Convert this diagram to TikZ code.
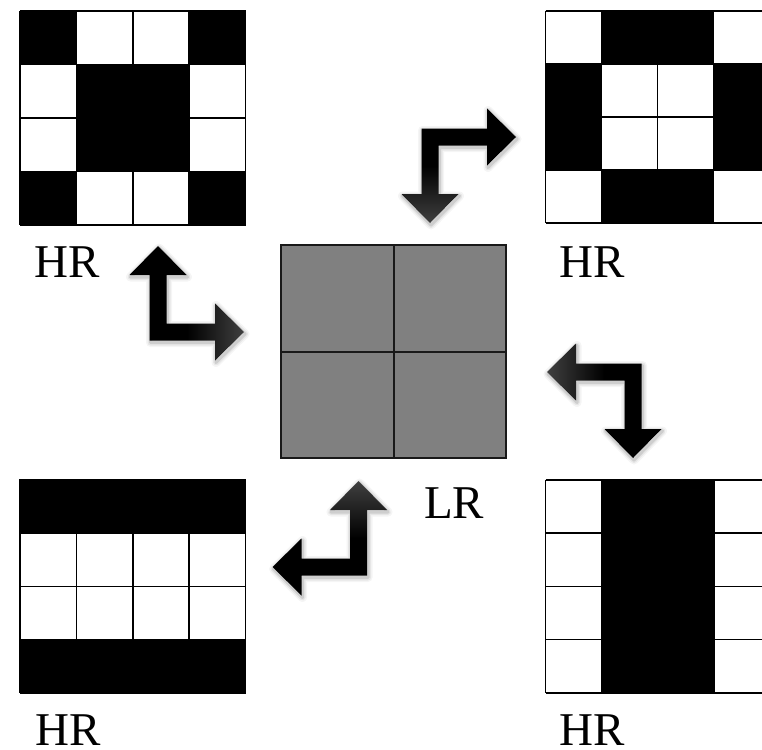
\documentclass[tikz,border=0pt]{standalone}
\usepackage{fontspec}
\setmainfont{Liberation Serif}
\tikzset{
  cellline/.style={draw=black, line width=1.5pt},
  lbl/.style={font=\fontsize{47}{50}\selectfont, inner sep=0pt, anchor=base west, text=black},
  arrowshadow/.style={draw=black, line join=round},
}
% L-shaped double arrow: corner (#1,#2), x-arm sign #3, y-arm sign #4
\newcommand{\Lpath}[4]{%
  ({#1+(#3)*(-8.5)},{#2+(#4)*(-8.5)}) -- ({#1+(#3)*57},{#2+(#4)*(-8.5)}) --
  ({#1+(#3)*57},{#2+(#4)*(-28.5)}) -- ({#1+(#3)*86},{#2}) --
  ({#1+(#3)*57},{#2+(#4)*28.5}) -- ({#1+(#3)*57},{#2+(#4)*8.5}) --
  ({#1+(#3)*8.5},{#2+(#4)*8.5}) -- ({#1+(#3)*8.5},{#2+(#4)*57}) --
  ({#1+(#3)*28.5},{#2+(#4)*57}) -- ({#1},{#2+(#4)*86}) --
  ({#1+(#3)*(-28.5)},{#2+(#4)*57}) -- ({#1+(#3)*(-8.5)},{#2+(#4)*57}) -- cycle}
\newcommand{\Larr}[5]{%
  \begin{scope}[shift={(1,2)}]
    \draw[arrowshadow, line width=9pt, opacity=0.04] \Lpath{#1}{#2}{#3}{#4};
    \draw[arrowshadow, line width=6pt, opacity=0.06] \Lpath{#1}{#2}{#3}{#4};
    \draw[arrowshadow, line width=3pt, opacity=0.10] \Lpath{#1}{#2}{#3}{#4};
  \end{scope}
  \shade[#5] \Lpath{#1}{#2}{#3}{#4};
}
% 4x4 grid: x0, y0, cell w, cell h, black cells
\newcommand{\gridbox}[5]{%
  \fill[white] (#1,#2) rectangle ({#1+4*#3},{#2+4*#4});
  \foreach \c/\r in {#5} {\fill[black] ({#1+\c*#3},{#2+\r*#4}) rectangle ++(#3,#4);}
  \foreach \i in {0,...,4} {
    \draw[cellline] ({#1+\i*#3},#2) -- ({#1+\i*#3},{#2+4*#4});
    \draw[cellline] (#1,{#2+\i*#4}) -- ({#1+4*#3},{#2+\i*#4});
  }
}
\begin{document}
\begin{tikzpicture}[x=1pt, y=-1pt]
  \useasboundingbox (0,0) rectangle (762,749);
  \clip (0,0) rectangle (762,749);
  \fill[white] (0,0) rectangle (762,749);

  % HR grids
  \gridbox{20}{11}{56.4}{53.5}{0/0,3/0,1/1,2/1,1/2,2/2,0/3,3/3}
  \gridbox{545.7}{11}{56}{53}{1/0,2/0,0/1,0/2,3/1,3/2,1/3,2/3}
  \gridbox{20}{479.3}{56.4}{53.5}{0/0,1/0,2/0,3/0,0/3,1/3,2/3,3/3}
  \gridbox{545.7}{480}{56.2}{53.2}{1/0,1/1,1/2,1/3,2/0,2/1,2/2,2/3}

  % LR grid
  \fill[black!50] (281,245) rectangle (506,458);
  \draw[draw=black!90, line width=2pt] (281,245) rectangle (506,458);
  \draw[draw=black!90, line width=2pt] (393.5,245) -- (393.5,458);
  \draw[draw=black!90, line width=2pt] (281,351.5) -- (506,351.5);

  % L-shaped arrows
  \Larr{430}{137}{1}{1}{top color=black, bottom color=black!75, middle color=black}
  \Larr{158}{332}{1}{-1}{left color=black, right color=black!75, middle color=black}
  \Larr{633}{372}{-1}{1}{left color=black!75, right color=black, middle color=black}
  \Larr{358.5}{567}{-1}{-1}{top color=black!75, bottom color=black, middle color=black}

  % labels
  \node[lbl] (hrtl) at (34,277) {HR};
  \node[lbl] (hrtr) at (559,277) {HR};
  \node[lbl] (lr) at (424,518) {LR};
  \node[lbl] (hrbl) at (35,745) {HR};
  \node[lbl] (hrbr) at (559,745) {HR};
\end{tikzpicture}
\end{document}
